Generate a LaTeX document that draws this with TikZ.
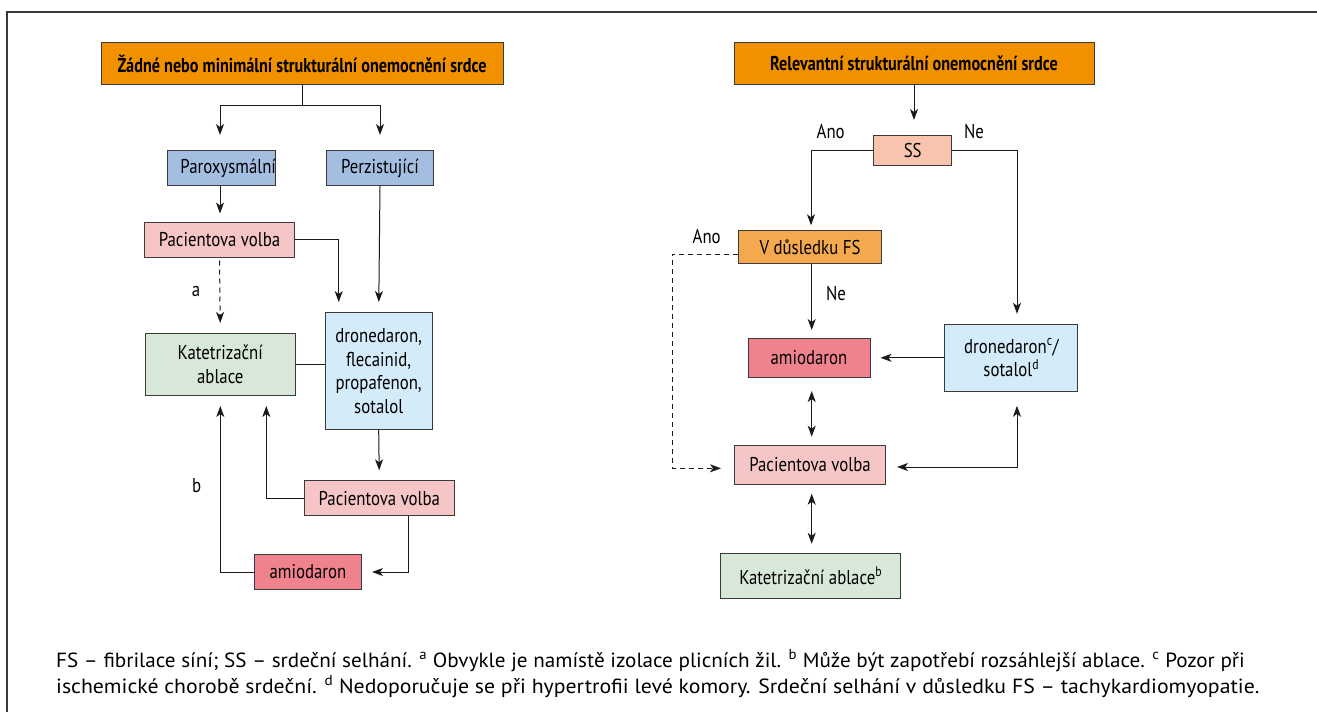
\documentclass[tikz,border=0pt]{standalone}
\usepackage{fontspec}
\setmainfont{PT Sans}
\newfontfamily\headfont[FakeStretch=0.81]{PT Sans}
\newfontfamily\condfont[FakeStretch=0.84]{PT Sans}
\newfontfamily\capfont[FakeStretch=1.031]{PT Sans}
\newfontfamily\capfontb[FakeStretch=1.062]{PT Sans}
\usetikzlibrary{arrows.meta,positioning,calc}
\definecolor{hdr}{HTML}{F29100}
\definecolor{blu}{HTML}{A4BEE2}
\definecolor{pnk}{HTML}{F6C6C7}
\definecolor{grn}{HTML}{D7E8D9}
\definecolor{lbl}{HTML}{D4EBFA}
\definecolor{ami}{HTML}{EF828C}
\definecolor{ssc}{HTML}{F8C4AE}
\definecolor{vfs}{HTML}{F5A94E}
\definecolor{brd}{HTML}{3A3A3A}
\definecolor{lnc}{HTML}{1A1A1A}
\begin{document}
\begin{tikzpicture}[x=1pt,y=-1pt,
  box/.style={draw=brd,line width=1pt,inner sep=0pt,align=center,font=\condfont\fontsize{20}{23.5}\selectfont},
  hbox/.style={box,fill=hdr,font=\headfont\bfseries\fontsize{20}{23}\selectfont},
  conn/.style={line width=1pt,lnc},
  arr/.style={conn,-{Stealth[length=11pt,width=8pt,inset=3pt]},shorten >=10pt},
  darr/.style={conn,{Stealth[length=11pt,width=8pt,inset=3pt]}-{Stealth[length=11pt,width=8pt,inset=3pt]},shorten >=9pt,shorten <=9pt},
  lab/.style={font=\condfont\fontsize{20}{23}\selectfont,inner sep=0pt},
  captxt/.style={font=\capfont\fontsize{20.5}{26}\selectfont,inner sep=0pt,anchor=base west},
  captxtb/.style={captxt,font=\capfontb\fontsize{20.5}{26}\selectfont}]
\useasboundingbox (0,0) rectangle (1317,712);
\draw[line width=1.3pt,brd] (7,712) -- (7,12) -- (1317,12);
% left
\node[hbox,minimum width=402pt,minimum height=42pt] (hL) at (302,63.5) {Žádné nebo minimální strukturální onemocnění srdce};
\node[box,fill=blu,minimum width=107pt,minimum height=35pt] (par) at (221.7,168) {\hspace*{13pt}Paroxysmální};
\node[box,fill=blu,minimum width=107pt,minimum height=35pt] (per) at (380,168) {Perzistující};
\node[box,fill=pnk,minimum width=150pt,minimum height=35pt] (pv1) at (219.5,239.5) {Pacientova volba};
\node[box,fill=grn,minimum width=150pt,minimum height=62pt] (katL) at (220.3,364.5) {Katetrizační\\ablace};
\node[box,fill=lbl,minimum width=107pt,minimum height=117pt] (drugL) at (378.7,371) {dronedaron,\\flecainid,\\propafenon,\\sotalol};
\node[box,fill=pnk,minimum width=150pt,minimum height=35pt] (pv2) at (379.3,498.3) {Pacientova volba};
\node[box,fill=ami,minimum width=107pt,minimum height=35pt] (amiL) at (308,572) {amiodaron};
\draw[conn] (hL.south) -- ++(0,20) coordinate (splitL);
\draw[arr,shorten >=15pt] (splitL) -| ([xshift=-1.7pt]par.north);
\draw[arr,shorten >=15pt] (splitL) -| (per.north);
\draw[arr,shorten >=8pt] ([xshift=-1.7pt]par.south) -- ([xshift=-1.7pt]par.south |- pv1.north);
\draw[arr] (pv1.east) -| ([xshift=-40pt]drugL.north);
\draw[arr] (per.south) -- (drugL.north);
\draw[arr,dash pattern=on 5pt off 4pt,shorten <=3pt] (pv1.south) -- (katL.north);
\node[lab] (la) at (196,291) {a};
\draw[conn] (katL.east) -- (katL.east -| drugL.west);
\draw[arr] (drugL.south) -- (pv2.north);
\draw[arr] (pv2.west) -| ([xshift=46pt]katL.south);
\draw[arr] ([xshift=29pt]pv2.south) |- (amiL.east);
\draw[arr] (amiL.west) -| (katL.south);
\node[lab] (lb) at (196.7,485.7) {b};
% right
\node[hbox,minimum width=360pt,minimum height=42pt] (hR) at (914,63.5) {Relevantní strukturální onemocnění srdce};
\node[box,fill=ssc,minimum width=78pt,minimum height=30pt] (ss) at (912.7,150.5) {SS};
\node[box,fill=vfs,minimum width=143pt,minimum height=33pt] (vf) at (810,247.3) {V důsledku FS};
\node[box,fill=lbl,minimum width=133pt,minimum height=67pt] (drugR) at (1011.3,357.8) {dronedaron\textsuperscript{c}/\\sotalol\textsuperscript{d}};
\node[box,fill=ami,minimum width=122pt,minimum height=39pt] (amiR) at (809,358) {amiodaron};
\node[box,fill=pnk,minimum width=151pt,minimum height=39pt] (pvR) at (810,464.7) {Pacientova volba};
\node[box,fill=grn,minimum width=180pt,minimum height=45pt] (katR) at (810.7,575.8) {Katetrizační ablace\textsuperscript{b}};
\draw[arr,shorten >=15pt] (hR.south) -- (hR.south |- ss.north);
\draw[arr,shorten >=5pt] (ss.west) -| ([xshift=1pt]vf.north);
\node[lab] (ano1) at (830.7,131.7) {Ano};
\draw[arr] (ss.east) -| ([xshift=5.7pt]drugR.north);
\node[lab] (ne1) at (974,131.7) {Ne};
\draw[arr,shorten >=8pt] ([xshift=1.7pt]vf.south) -- ([xshift=1.7pt]vf.south |- amiR.north);
\node[lab] (ne2) at (836,294) {Ne};
\draw[arr,dash pattern=on 5pt off 4pt,shorten >=13pt] ([yshift=-7pt]vf.west) -- ++(-66,0) |- ([yshift=-3.6pt]pvR.west);
\node[lab] (ano2) at (706.7,237) {Ano};
\draw[arr] (drugR.west) -- (drugR.west -| amiR.east);
\draw[darr,shorten <=13pt,shorten >=8pt] ([xshift=2.7pt]amiR.south) -- ([xshift=2.7pt]amiR.south |- pvR.north);
\draw[darr,shorten <=11pt,shorten >=14pt] ([yshift=-2.3pt]pvR.east) -| ([xshift=5.7pt]drugR.south);
\draw[darr] ([xshift=1.7pt]pvR.south) -- ([xshift=1.7pt]pvR.south |- katR.north);
% caption
\node[captxt] (c1) at (56,667) {FS – fibrilace síní; SS – srdeční selhání. \textsuperscript{a} Obvykle je namístě izolace plicních žil. \textsuperscript{b} Může být zapotřebí rozsáhlejší ablace. \textsuperscript{c} Pozor při};
\node[captxtb] (c2) at (56,693) {ischemické chorobě srdeční. \textsuperscript{d} Nedoporučuje se při hypertrofii levé komory. Srdeční selhání v důsledku FS – tachykardiomyopatie.};
\end{tikzpicture}
\end{document}
